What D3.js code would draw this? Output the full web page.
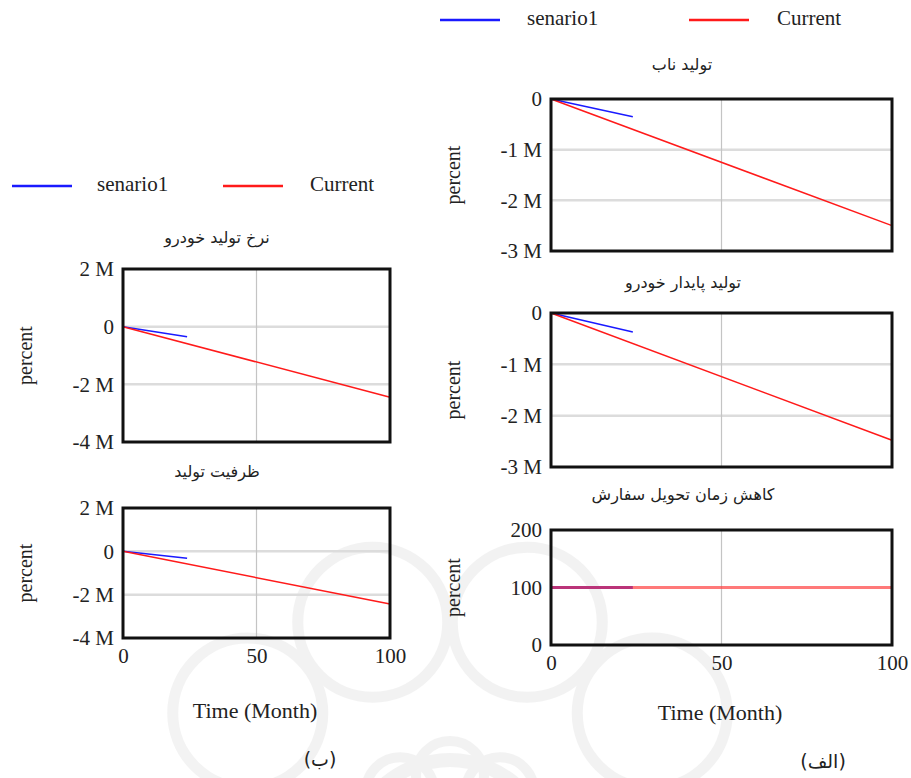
<!DOCTYPE html>
<html>
<head>
<meta charset="utf-8">
<script src="https://cdn.jsdelivr.net/npm/d3@7"></script>
<style>
  body { margin: 0; background: #fff; }
  svg { display: block; }
</style>
</head>
<body>
<div class="chart"></div>
<script>
// time axis
var timeTicks = [0, 50, 100];
var timeCurrent = [0, 100];
var timeSenario = [0, 24];

// series names
var seriesNames = ["senario1", "Current"];

// panel titles
var titleNab = "تولید ناب";
var titlePaydar = "تولید پایدار خودرو";
var titleKahesh = "کاهش زمان تحویل سفارش";
var titleNerkh = "نرخ تولید خودرو";
var titleZarfiat = "ظرفیت تولید";

// values (percent)
var nabCurrent = [0, -2500000];
var nabSenario = [0, -350000];
var paydarCurrent = [0, -2480000];
var paydarSenario = [0, -370000];
var kaheshCurrent = [100, 100];
var kaheshSenario = [100, 100];
var nerkhCurrent = [0, -2450000];
var nerkhSenario = [0, -350000];
var zarfiatCurrent = [0, -2430000];
var zarfiatSenario = [0, -320000];

// y ticks
var ticksM3 = [0, -1000000, -2000000, -3000000];
var ticksM4 = [2000000, 0, -2000000, -4000000];
var ticks200 = [0, 100, 200];

var width = 911,
    height = 778;

var svg = d3.select(".chart").append("svg")
    .attr("width", width)
    .attr("height", height);

// find a serif face that is really installed
function hasFont(name) {
  var t1 = svg.append("text").attr("font-size", 40).attr("font-family", "monospace").text("Time (Month) senario1");
  var t2 = svg.append("text").attr("font-size", 40).attr("font-family", "'" + name + "', monospace").text("Time (Month) senario1");
  var ok = Math.abs(t1.node().getComputedTextLength() - t2.node().getComputedTextLength()) > 0.5;
  t1.remove(); t2.remove();
  return ok;
}
var serif = ["Liberation Serif", "Times New Roman", "DejaVu Serif", "Noto Serif", "Tinos"].filter(hasFont)[0] || "serif";
var LAT = "'" + serif + "', serif";
var FA = "'DejaVu Sans', sans-serif";

// faint watermark behind everything
var wm = svg.append("g").attr("opacity", 0.06)
    .attr("fill", "none").attr("stroke", "#333");
wm.append("circle").attr("cx", 450).attr("cy", 860).attr("r", 100).attr("stroke-width", 14);
for (let i = 0; i < 5; i++) {
  let a = Math.PI * 1.1 + i * Math.PI * 0.2;
  wm.append("circle")
    .attr("cx", 450 + Math.cos(a) * 85)
    .attr("cy", 860 + Math.sin(a) * 85)
    .attr("r", 34).attr("stroke-width", 10);
}
for (let i = 0; i < 4; i++) {
  let a = Math.PI * 1.2 + i * Math.PI * 0.2;
  wm.append("circle")
    .attr("cx", 450 + Math.cos(a) * 250)
    .attr("cy", 860 + Math.sin(a) * 250)
    .attr("r", 75).attr("stroke-width", 11);
}

function fmtM(d) {
  return d === 0 ? "0" : (d / 1000000) + " M";
}

function panel(opt) {
  var x = d3.scaleLinear().domain([0, 100]).range([opt.x0, opt.x1]);
  var y = d3.scaleLinear().domain(opt.domain).range([opt.y1, opt.y0]);
  var g = svg.append("g");

  g.append("text").attr("font-family", FA).attr("fill", "#222")
    .attr("x", opt.tx).attr("y", opt.ty)
    .attr("text-anchor", "middle").attr("dominant-baseline", "middle")
    .attr("font-size", 16)
    .attr("direction", "rtl")
    .text(opt.title);

  // grid
  g.selectAll(".hg").data(opt.grid).enter().append("line")
    .attr("x1", opt.x0).attr("x2", opt.x1)
    .attr("y1", function(d) { return y(d); }).attr("y2", function(d) { return y(d); })
    .attr("stroke", "#dcdcdc").attr("stroke-width", 2.5);
  g.append("line")
    .attr("x1", x(50)).attr("x2", x(50)).attr("y1", opt.y0).attr("y2", opt.y1)
    .attr("stroke", "#c4c4c4").attr("stroke-width", 1.2);

  var line = d3.line()
    .x(function(d) { return x(d[0]); })
    .y(function(d) { return y(d[1]); });

  g.append("path")
    .datum(d3.zip(timeSenario, opt.senario))
    .attr("d", line).attr("fill", "none")
    .attr("stroke", "#1a1aff").attr("stroke-width", opt.lw);
  g.append("path")
    .datum(d3.zip(timeCurrent, opt.current))
    .attr("d", line).attr("fill", "none")
    .attr("stroke", opt.red).attr("stroke-opacity", opt.redOp)
    .attr("stroke-width", opt.lw);

  g.append("rect")
    .attr("x", opt.x0).attr("y", opt.y0)
    .attr("width", opt.x1 - opt.x0).attr("height", opt.y1 - opt.y0)
    .attr("fill", "none").attr("stroke", "#111").attr("stroke-width", 3);

  var ya = g.append("g")
    .attr("transform", "translate(" + opt.x0 + ",0)")
    .call(d3.axisLeft(y).tickValues(opt.ticks).tickFormat(opt.fmt).tickSize(0).tickPadding(9));
  ya.attr("font-family", LAT).attr("font-size", 21);
  ya.select(".domain").remove();
  ya.selectAll("text").attr("fill", "#222");

  if (opt.xaxis) {
    var xa = g.append("g")
      .attr("transform", "translate(0," + opt.y1 + ")")
      .call(d3.axisBottom(x).tickValues(timeTicks).tickSize(0).tickPadding(10));
    xa.attr("font-family", LAT).attr("font-size", 21);
    xa.select(".domain").remove();
    xa.selectAll("text").attr("fill", "#222");
  }

  g.append("text").attr("font-family", LAT).attr("fill", "#222")
    .attr("transform", "translate(" + opt.px + "," + ((opt.y0 + opt.y1) / 2) + ") rotate(-90)")
    .attr("text-anchor", "middle").attr("dominant-baseline", "middle")
    .attr("font-size", 20)
    .text("percent");
}

function legend(lx, ly, tx1, rx, tx2) {
  var g = svg.append("g").attr("font-family", LAT).attr("font-size", 21).attr("fill", "#222");
  g.append("line").attr("x1", lx).attr("x2", lx + 60).attr("y1", ly).attr("y2", ly)
    .attr("stroke", "#1a1aff").attr("stroke-width", 2.5);
  g.append("text").attr("x", tx1).attr("y", ly)
    .attr("dominant-baseline", "middle").text(seriesNames[0]);
  g.append("line").attr("x1", rx).attr("x2", rx + 60).attr("y1", ly).attr("y2", ly)
    .attr("stroke", "#ff1a1a").attr("stroke-width", 2.5);
  g.append("text").attr("x", tx2).attr("y", ly)
    .attr("dominant-baseline", "middle").text(seriesNames[1]);
}

legend(440, 20, 527, 689, 777);
legend(12, 186, 97, 223, 310);

panel({ x0: 551, x1: 892, y0: 99, y1: 251, domain: [-3000000, 0], ticks: ticksM3, fmt: fmtM,
  grid: [-1000000, -2000000], title: titleNab, tx: 682, ty: 65,
  current: nabCurrent, senario: nabSenario, red: "#ff1a1a", redOp: 1, lw: 1.5, xaxis: false, px: 455 });
panel({ x0: 551, x1: 892, y0: 313, y1: 467, domain: [-3000000, 0], ticks: ticksM3, fmt: fmtM,
  grid: [-1000000, -2000000], title: titlePaydar, tx: 683, ty: 283,
  current: paydarCurrent, senario: paydarSenario, red: "#ff1a1a", redOp: 1, lw: 1.5, xaxis: false, px: 455 });
panel({ x0: 551, x1: 892, y0: 530, y1: 645, domain: [0, 200], ticks: ticks200, fmt: d3.format("d"),
  grid: [], title: titleKahesh, tx: 683, ty: 495,
  current: kaheshCurrent, senario: kaheshSenario, red: "#ff4040", redOp: 0.7, lw: 3, xaxis: true, px: 455 });
panel({ x0: 123, x1: 390, y0: 269, y1: 442, domain: [-4000000, 2000000], ticks: ticksM4, fmt: fmtM,
  grid: [0, -2000000], title: titleNerkh, tx: 217, ty: 238,
  current: nerkhCurrent, senario: nerkhSenario, red: "#ff1a1a", redOp: 1, lw: 1.5, xaxis: false, px: 27 });
panel({ x0: 123, x1: 390, y0: 508, y1: 638, domain: [-4000000, 2000000], ticks: ticksM4, fmt: fmtM,
  grid: [0, -2000000], title: titleZarfiat, tx: 217, ty: 472,
  current: zarfiatCurrent, senario: zarfiatSenario, red: "#ff1a1a", redOp: 1, lw: 1.5, xaxis: true, px: 27 });

// x labels and panel letters
var lab = svg.append("g").attr("fill", "#222").attr("text-anchor", "middle");
lab.append("text").attr("font-family", LAT).attr("x", 720).attr("y", 715)
  .attr("dominant-baseline", "middle").attr("font-size", 22)
  .text("Time (Month)");
lab.append("text").attr("font-family", LAT).attr("x", 255).attr("y", 713)
  .attr("dominant-baseline", "middle").attr("font-size", 22)
  .text("Time (Month)");
lab.append("text").attr("font-family", FA).attr("x", 823).attr("y", 762)
  .attr("dominant-baseline", "middle").attr("font-size", 19)
  .text("(الف)");
lab.append("text").attr("font-family", FA).attr("x", 320).attr("y", 760)
  .attr("dominant-baseline", "middle").attr("font-size", 19)
  .text("(ب)");
</script>
</body>
</html>
